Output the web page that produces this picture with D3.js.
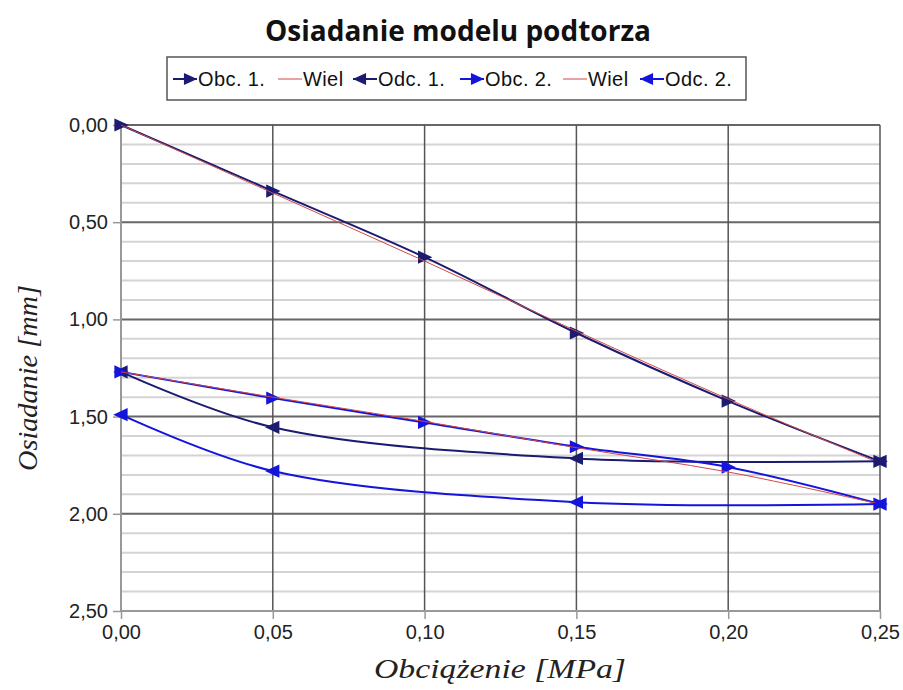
<!DOCTYPE html>
<html lang="pl">
<head>
<meta charset="utf-8">
<script src="https://d3js.org/d3.v7.min.js"></script>
<style>
  body { margin: 0; background: #fff; }
  .tick-label { font-family: "Liberation Sans", Arial, sans-serif; font-size: 20px; fill: #222; }
  .legend-text { font-family: "Liberation Sans", Arial, sans-serif; font-size: 20px; letter-spacing: 0.4px; fill: #111; }
  .axis-title { font-family: "Liberation Serif", "Times New Roman", serif; font-style: italic; font-size: 28px; fill: #222; }
  .title { font-family: "Open Sans", sans-serif; font-weight: bold; font-size: 28px; fill: #111; }
</style>
<title>Osiadanie modelu podtorza</title>
</head>
<body>
<div id="chart"></div>
<script>
// loading steps (MPa)
var obcX = [0, 0.05, 0.10, 0.15, 0.20, 0.25];
var odcX = [0.25, 0.15, 0.05, 0.00];

// settlement (mm)
var obc1 = [0.00, 0.34, 0.68, 1.07, 1.42, 1.73];
var wiel1 = [0.00, 0.35, 0.70, 1.06, 1.41, 1.74];
var odc1 = [1.73, 1.715, 1.555, 1.27];
var obc2 = [1.27, 1.405, 1.53, 1.655, 1.76, 1.95];
var wiel2 = [1.27, 1.40, 1.525, 1.66, 1.785, 1.95];
var odc2 = [1.95, 1.94, 1.78, 1.49];

var xTicks = [0, 0.05, 0.10, 0.15, 0.20, 0.25];
var yTicks = [0, 0.5, 1.0, 1.5, 2.0, 2.5];

var navy = "#1b1b72", blue = "#1414dc", red = "#d04848";

var series = [
  {name: "Obc. 1.", xs: obcX, ys: obc1, color: navy, marker: "right", width: 2},
  {name: "Wiel", xs: obcX, ys: wiel1, color: red, marker: null, width: 1},
  {name: "Odc. 1.", xs: odcX, ys: odc1, color: navy, marker: "left", width: 2},
  {name: "Obc. 2.", xs: obcX, ys: obc2, color: blue, marker: "right", width: 2},
  {name: "Wiel", xs: obcX, ys: wiel2, color: red, marker: null, width: 1},
  {name: "Odc. 2.", xs: odcX, ys: odc2, color: blue, marker: "left", width: 2}
];

var W = 903, H = 690;
var margin = {top: 125, right: 23, bottom: 79, left: 121};
var width = W - margin.left - margin.right,
    height = H - margin.top - margin.bottom;

var svg = d3.select("#chart").append("svg")
    .attr("width", W)
    .attr("height", H);

var g = svg.append("g")
    .attr("transform", "translate(" + margin.left + "," + margin.top + ")");

var x = d3.scaleLinear().domain([0, 0.25]).range([0, width]);
var y = d3.scaleLinear().domain([0, 2.5]).range([0, height]);

var fmt = function(d, n) { return d.toFixed(n).replace(".", ","); };

// minor horizontal grid
g.append("g").selectAll("line")
  .data(d3.range(0, 26).map(function(i) { return i / 10; }).filter(function(d) { return Math.round(d * 10) % 5 != 0; }))
  .join("line")
    .attr("x1", 0).attr("x2", width)
    .attr("y1", function(d) { return y(d); })
    .attr("y2", function(d) { return y(d); })
    .attr("stroke", "#d4d4d4")
    .attr("stroke-width", 2);

// major horizontal grid
g.append("g").selectAll("line")
  .data(yTicks.slice(0, -1))
  .join("line")
    .attr("x1", 0).attr("x2", width)
    .attr("y1", function(d) { return y(d); })
    .attr("y2", function(d) { return y(d); })
    .attr("stroke", "#666")
    .attr("stroke-width", 2);

// vertical grid
g.append("g").selectAll("line")
  .data(xTicks.slice(1))
  .join("line")
    .attr("x1", function(d) { return x(d); })
    .attr("x2", function(d) { return x(d); })
    .attr("y1", 0).attr("y2", height)
    .attr("stroke", "#555")
    .attr("stroke-width", 1.5);

// axes
var yAxis = g.append("g")
    .call(d3.axisLeft(y).tickValues(yTicks).tickSize(8).tickFormat(function(d) { return fmt(d, 2); }));
var xAxis = g.append("g")
    .attr("transform", "translate(0," + height + ")")
    .call(d3.axisBottom(x).tickValues(xTicks).tickSize(8).tickFormat(function(d) { return fmt(d, 2); }));

[yAxis, xAxis].forEach(function(a) {
  a.select(".domain").attr("stroke", "#999").attr("stroke-width", 2);
  a.selectAll(".tick line").attr("stroke", "#999").attr("stroke-width", 1.5);
  a.selectAll(".tick text").attr("class", "tick-label").attr("fill", null);
});
yAxis.select(".domain").attr("d", "M0,0V" + height);
xAxis.select(".domain").attr("d", "M0,0H" + width);
yAxis.selectAll(".tick text").attr("x", -13);
xAxis.selectAll(".tick text").attr("y", 14);

// lines
var line = d3.line()
    .x(function(d) { return x(d[0]); })
    .y(function(d) { return y(d[1]); })
    .curve(d3.curveCatmullRom.alpha(0.5));

function tri(dir, s) {
  // triangle pointing left or right, centred on 0,0
  return dir == "right"
    ? "M" + (-s * 0.55) + "," + (-s * 0.55) + "L" + (s * 0.65) + ",0L" + (-s * 0.55) + "," + (s * 0.55) + "Z"
    : "M" + (s * 0.55) + "," + (-s * 0.55) + "L" + (-s * 0.65) + ",0L" + (s * 0.55) + "," + (s * 0.55) + "Z";
}

series.forEach(function(s) {
  var pts = s.xs.map(function(v, i) { return [v, s.ys[i]]; });
  g.append("path")
    .datum(pts)
    .attr("fill", "none")
    .attr("stroke", s.color)
    .attr("stroke-width", s.width)
    .attr("d", line);
  if (s.marker) {
    g.append("g").selectAll("path")
      .data(pts)
      .join("path")
        .attr("transform", function(d) { return "translate(" + x(d[0]) + "," + y(d[1]) + ")"; })
        .attr("d", tri(s.marker, 12))
        .attr("fill", s.color);
  }
});

// title
svg.append("text")
    .attr("class", "title")
    .attr("x", 458).attr("y", 41)
    .attr("text-anchor", "middle")
    .text("Osiadanie modelu podtorza");

// axis titles
svg.append("text")
    .attr("class", "axis-title")
    .attr("x", 500).attr("y", 678)
    .attr("text-anchor", "middle")
    .attr("textLength", 252)
    .attr("lengthAdjust", "spacingAndGlyphs")
    .text("Obciążenie [MPa]");
svg.append("text")
    .attr("class", "axis-title")
    .attr("transform", "translate(37,378) rotate(-90)")
    .attr("text-anchor", "middle")
    .attr("textLength", 186)
    .attr("lengthAdjust", "spacingAndGlyphs")
    .text("Osiadanie [mm]");

// legend
var legend = svg.append("g");
legend.append("rect")
    .attr("x", 167).attr("y", 57)
    .attr("width", 579).attr("height", 43)
    .attr("fill", "#fff")
    .attr("stroke", "#555")
    .attr("stroke-width", 1.5);

var legendX = [173, 278, 353, 460, 563, 640];
series.forEach(function(s, i) {
  var lg = legend.append("g").attr("transform", "translate(" + legendX[i] + ",79)");
  lg.append("line")
    .attr("x1", 0).attr("x2", 24)
    .attr("stroke", s.color)
    .attr("stroke-width", s.width);
  if (s.marker) {
    lg.append("path")
      .attr("transform", "translate(" + (s.marker == "right" ? 17 : 7) + ",0)")
      .attr("d", tri(s.marker, 11))
      .attr("fill", s.color);
  }
  lg.append("text")
    .attr("class", "legend-text")
    .attr("x", 25).attr("y", 7)
    .text(s.name);
});
</script>
</body>
</html>
